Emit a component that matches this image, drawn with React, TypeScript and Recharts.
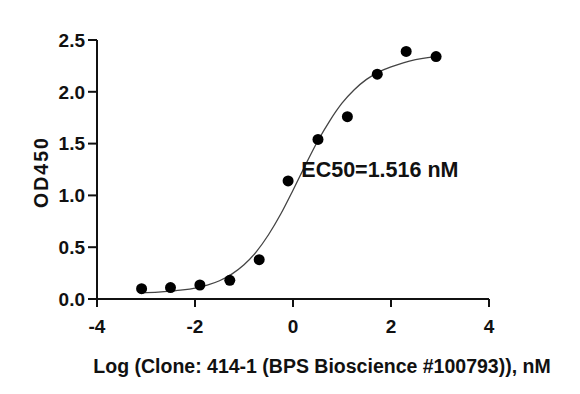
import { ComposedChart, Line, Scatter, XAxis, YAxis, ReferenceDot } from 'recharts';

// measured points (log nM, OD450)
const pointX = [-3.09, -2.5, -1.9, -1.29, -0.69, -0.1, 0.51, 1.11, 1.72, 2.31, 2.92];
const pointY = [0.1, 0.11, 0.135, 0.18, 0.38, 1.14, 1.54, 1.76, 2.17, 2.39, 2.34];

// fitted curve
const curveX = [-3.1, -2.75, -2.5, -2.25, -2, -1.75, -1.5, -1.25, -1, -0.75, -0.5, -0.25, 0, 0.25, 0.5, 0.75, 1, 1.25, 1.5, 1.75, 2, 2.25, 2.5, 2.75, 2.95];
const curveY = [0.06, 0.067, 0.076, 0.088, 0.106, 0.134, 0.176, 0.24, 0.33, 0.455, 0.62, 0.82, 1.05, 1.29, 1.52, 1.72, 1.89, 2.02, 2.12, 2.19, 2.24, 2.28, 2.31, 2.33, 2.34];

const xTicks = [-4, -2, 0, 2, 4];
const yTicks = [0, 0.5, 1, 1.5, 2, 2.5];

const xTitle = 'Log (Clone: 414-1 (BPS Bioscience #100793)), nM';
const yTitle = 'OD450';
const ec50Text = 'EC50=1.516 nM';

const points = pointX.map((x, i) => ({ x, y: pointY[i] }));
const curve = curveX.map((x, i) => ({ x, y: curveY[i] }));

const FONT = '"Liberation Sans", Arial, sans-serif';
const tickStyle = { fill: '#111', fontSize: 19, fontWeight: 700, fontFamily: FONT };

export default function App() {
  return (
    <div style={{ position: 'absolute', left: 0, top: 0, background: '#fff' }}>
      <ComposedChart width={580} height={394} margin={{ top: 40, right: 91, left: 0, bottom: 0 }}>
        <XAxis
          type="number"
          dataKey="x"
          domain={[-4, 4]}
          ticks={xTicks}
          allowDataOverflow
          tick={tickStyle}
          tickSize={8}
          tickMargin={13}
          height={95}
          axisLine={{ stroke: '#111', strokeWidth: 2 }}
          tickLine={{ stroke: '#111', strokeWidth: 2 }}
          label={{
            content: () => (
              <text x={322} y={373} textAnchor="middle" style={{ ...tickStyle, fontSize: 19.5 }}>
                {xTitle}
              </text>
            ),
          }}
        />
        <YAxis
          type="number"
          dataKey="y"
          domain={[0, 2.5]}
          ticks={yTicks}
          width={97}
          tick={tickStyle}
          tickFormatter={(v: number) => v.toFixed(1)}
          tickSize={9}
          tickMargin={3}
          axisLine={{ stroke: '#111', strokeWidth: 2 }}
          tickLine={{ stroke: '#111', strokeWidth: 2 }}
          label={{
            content: () => (
              <text
                x={41}
                y={172}
                textAnchor="middle"
                dominantBaseline="central"
                transform="rotate(-90 41 172)"
                style={{ ...tickStyle, fontSize: 19.5, letterSpacing: 2 }}
              >
                {yTitle}
              </text>
            ),
          }}
        />
        <Line
          data={curve}
          dataKey="y"
          type="monotone"
          stroke="#444"
          strokeWidth={1.3}
          dot={false}
          activeDot={false}
          isAnimationActive={false}
        />
        <Scatter
          data={points}
          dataKey="y"
          fill="#000"
          isAnimationActive={false}
          shape={(p: any) => <circle cx={p.cx} cy={p.cy} r={5.5} fill="#000" />}
        />
        <ReferenceDot
          x={0.17}
          y={1.18}
          r={0}
          stroke="none"
          label={{
            content: (props: any) => (
              <text x={props.viewBox.x} y={props.viewBox.y} textAnchor="start" style={{ ...tickStyle, fontSize: 21.5 }}>
                {ec50Text}
              </text>
            ),
          }}
        />
      </ComposedChart>
    </div>
  );
}
